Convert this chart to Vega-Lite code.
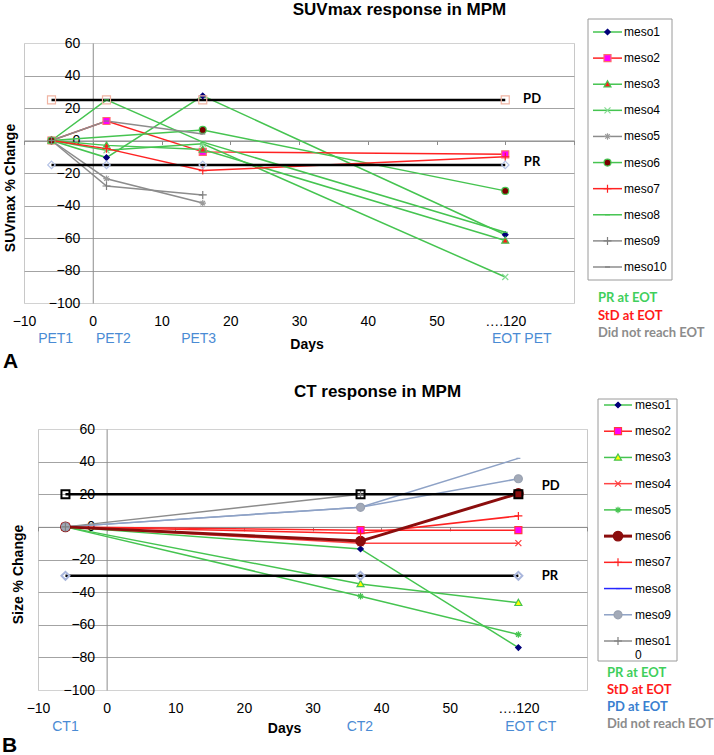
{
  "$schema": "https://vega.github.io/schema/vega-lite/v6.json",
  "background": "white",
  "padding": {"left": 2, "top": 0, "right": 0, "bottom": 0},
  "config": {"font": "Liberation Sans", "view": {"stroke": null}},
  "datasets": {
    "suv": [
      {"series": "meso1", "day": -6, "pct": 0}, {"series": "meso1", "day": 2, "pct": -10.5}, {"series": "meso1", "day": 16, "pct": 27.5}, {"series": "meso1", "day": 60, "pct": -58},
      {"series": "meso2", "day": -6, "pct": 0}, {"series": "meso2", "day": 2, "pct": 12}, {"series": "meso2", "day": 16, "pct": -7}, {"series": "meso2", "day": 60, "pct": -8.5},
      {"series": "meso3", "day": -6, "pct": 0}, {"series": "meso3", "day": 2, "pct": -3}, {"series": "meso3", "day": 16, "pct": -5.5}, {"series": "meso3", "day": 60, "pct": -61.5},
      {"series": "meso4", "day": -6, "pct": 0}, {"series": "meso4", "day": 2, "pct": -6}, {"series": "meso4", "day": 16, "pct": -2}, {"series": "meso4", "day": 60, "pct": -84},
      {"series": "meso5", "day": -6, "pct": 0}, {"series": "meso5", "day": 2, "pct": -23.5}, {"series": "meso5", "day": 16, "pct": -38.5},
      {"series": "meso6", "day": -6, "pct": 0}, {"series": "meso6", "day": 16, "pct": 6.5}, {"series": "meso6", "day": 60, "pct": -31},
      {"series": "meso7", "day": -6, "pct": 0}, {"series": "meso7", "day": 2, "pct": -5}, {"series": "meso7", "day": 16, "pct": -18.5}, {"series": "meso7", "day": 60, "pct": -10},
      {"series": "meso8", "day": -6, "pct": 0}, {"series": "meso8", "day": 2, "pct": 25}, {"series": "meso8", "day": 16, "pct": -1}, {"series": "meso8", "day": 60, "pct": -56.5},
      {"series": "meso9", "day": -6, "pct": 0}, {"series": "meso9", "day": 2, "pct": -28}, {"series": "meso9", "day": 16, "pct": -33.5},
      {"series": "meso10", "day": -6, "pct": 0}, {"series": "meso10", "day": 2, "pct": 12}, {"series": "meso10", "day": 16, "pct": 4}
    ],
    "ct": [
      {"series": "meso1", "day": -6, "pct": 0}, {"series": "meso1", "day": 37, "pct": -13.5}, {"series": "meso1", "day": 60, "pct": -74},
      {"series": "meso2", "day": -6, "pct": 0}, {"series": "meso2", "day": 37, "pct": -2}, {"series": "meso2", "day": 60, "pct": -2},
      {"series": "meso3", "day": -6, "pct": 0}, {"series": "meso3", "day": 37, "pct": -35}, {"series": "meso3", "day": 60, "pct": -46.5},
      {"series": "meso4", "day": -6, "pct": 0}, {"series": "meso4", "day": 37, "pct": -10}, {"series": "meso4", "day": 60, "pct": -10},
      {"series": "meso5", "day": -6, "pct": 0}, {"series": "meso5", "day": 37, "pct": -42.5}, {"series": "meso5", "day": 60, "pct": -66},
      {"series": "meso6", "day": -6, "pct": 0}, {"series": "meso6", "day": 37, "pct": -8.7}, {"series": "meso6", "day": 60, "pct": 20.5},
      {"series": "meso7", "day": -6, "pct": 0}, {"series": "meso7", "day": 37, "pct": -4}, {"series": "meso7", "day": 60, "pct": 6.7},
      {"series": "meso8", "day": -6, "pct": 0}, {"series": "meso8", "day": 37, "pct": 12}, {"series": "meso8", "day": 60, "pct": 42},
      {"series": "meso9", "day": -6, "pct": 0}, {"series": "meso9", "day": 37, "pct": 12}, {"series": "meso9", "day": 60, "pct": 29.5},
      {"series": "meso10", "day": -6, "pct": 0}, {"series": "meso10", "day": 37, "pct": 20}
    ],
    "refA": [
      {"ref": "PD", "day": -6, "pct": 25}, {"ref": "PD", "day": 2, "pct": 25}, {"ref": "PD", "day": 16, "pct": 25}, {"ref": "PD", "day": 60, "pct": 25},
      {"ref": "PR", "day": -6, "pct": -15}, {"ref": "PR", "day": 2, "pct": -15}, {"ref": "PR", "day": 16, "pct": -15}, {"ref": "PR", "day": 60, "pct": -15}
    ],
    "refB": [
      {"ref": "PD", "day": -6, "pct": 20}, {"ref": "PD", "day": 37, "pct": 20}, {"ref": "PD", "day": 60, "pct": 20},
      {"ref": "PR", "day": -6, "pct": -30}, {"ref": "PR", "day": 37, "pct": -30}, {"ref": "PR", "day": 60, "pct": -30}
    ],
    "refLabA": [{"label": "PD", "day": 63.9, "pct": 25.5}, {"label": "PR", "day": 63.9, "pct": -13.5}],
    "refLabB": [{"label": "PD", "day": 64.7, "pct": 25.1}, {"label": "PR", "day": 64.6, "pct": -30}],
    "tpA": [{"label": "PET1", "day": -5.4, "pct": -100}, {"label": "PET2", "day": 3, "pct": -100}, {"label": "PET3", "day": 15.4, "pct": -100}, {"label": "EOT PET", "day": 62.4, "pct": -100}],
    "tpB": [{"label": "CT1", "day": -6, "pct": -100}, {"label": "CT2", "day": 36.9, "pct": -100}, {"label": "EOT CT", "day": 61.8, "pct": -100}],
    "legA": [{"series": "meso1"}, {"series": "meso2"}, {"series": "meso3"}, {"series": "meso4"}, {"series": "meso5"}, {"series": "meso6"}, {"series": "meso7"}, {"series": "meso8"}, {"series": "meso9"}, {"series": "meso10"}],
    "legB": [{"series": "meso1", "label": "meso1"}, {"series": "meso2", "label": "meso2"}, {"series": "meso3", "label": "meso3"}, {"series": "meso4", "label": "meso4"}, {"series": "meso5", "label": "meso5"}, {"series": "meso6", "label": "meso6"}, {"series": "meso7", "label": "meso7"}, {"series": "meso8", "label": "meso8"}, {"series": "meso9", "label": "meso9"}, {"series": "meso10", "label": "meso1\n0"}],
    "notesA": [{"note": "PR at EOT"}, {"note": "StD at EOT"}, {"note": "Did not reach EOT"}],
    "notesB": [{"note": "PR at EOT"}, {"note": "StD at EOT"}, {"note": "PD at EOT"}, {"note": "Did not reach EOT"}]
  },
  "spacing": 9,
  "resolve": {"scale": {"color": "independent", "fill": "independent", "stroke": "independent", "shape": "independent", "size": "independent"}},
  "vconcat": [
    {
      "hconcat": [
        {
          "width": 550,
          "height": 260,
          "view": {"stroke": "#c8c8c8"},
          "title": {"text": "SUVmax response in MPM", "frame": "group", "anchor": "middle", "dx": 100.5, "offset": 0, "baseline": "bottom", "fontSize": 17, "fontWeight": "bold", "color": "#000000"},
          "encoding": {
            "x": {
              "field": "day", "type": "quantitative",
              "scale": {"domain": [-10, 70], "nice": false, "zero": false},
              "axis": {
                "values": [-10, 0, 10, 20, 30, 40, 50, 60, 70], "offset": -162.5, "grid": false,
                "domainColor": "#8c8c8c", "tickColor": "#8c8c8c", "tickSize": 4,
                "labelPadding": 169.5, "labelFontSize": 14, "labelColor": "#000000", "labelFlush": false, "labelOverlap": false,
                "labelExpr": "datum.value == 60 ? '\u2026.120\u00a0\u00a0\u00a0\u00a0\u00a0\u00a0' : datum.value == 70 ? '' : datum.label",
                "title": "Days", "titleFontSize": 14, "titleFontWeight": "bold", "titleColor": "#000000",
                "titleX": 282.5, "titleY": 196.5, "titleAlign": "center", "titleBaseline": "top", "titleAngle": 0
              }
            },
            "y": {
              "field": "pct", "type": "quantitative",
              "scale": {"domain": [-100, 60], "nice": false, "zero": false},
              "axis": {
                "values": [-100, -80, -60, -40, -20, 0, 20, 40, 60], "offset": -68.75,
                "grid": true, "gridColor": {"condition": {"test": "datum.value == 60 || datum.value == -100", "value": "#d2d2d2"}, "value": "#a3a3a3"},
                "domainColor": "#8c8c8c", "ticks": false, "tickSize": 0,
                "labelPadding": 13, "labelFontSize": 14, "labelColor": "#000000", "labelFlush": false, "labelOverlap": false,
                "title": "SUVmax % Change", "titleFontSize": 14, "titleFontWeight": "bold", "titleColor": "#000000",
                "titleX": -82.75, "titleY": 144.5, "titleAngle": -90, "titleAlign": "center", "titleBaseline": "middle"
              }
            }
          },
          "layer": [
            {
              "data": {"name": "suv"},
              "mark": {"type": "line", "strokeWidth": 1.5},
              "encoding": {
                "color": {"field": "series", "type": "nominal", "legend": null,
                  "scale": {"domain": ["meso1", "meso2", "meso3", "meso4", "meso5", "meso6", "meso7", "meso8", "meso9", "meso10"],
                    "range": ["#45c450", "#ff2222", "#45c450", "#45c450", "#8c8c8c", "#45c450", "#ff2222", "#45c450", "#8c8c8c", "#8c8c8c"]}}
              }
            },
            {
              "data": {"name": "refA"},
              "mark": {"type": "line", "color": "#000000", "strokeWidth": 2.5},
              "encoding": {"detail": {"field": "ref", "type": "nominal"}}
            },
            {
              "data": {"name": "suv"},
              "mark": {"type": "point", "filled": true, "opacity": 1, "size": 100, "strokeWidth": 1.2},
              "encoding": {
                "shape": {"field": "series", "type": "nominal", "legend": null,
                  "scale": {"domain": ["meso1", "meso2", "meso3", "meso4", "meso5", "meso6", "meso7", "meso8", "meso9", "meso10"],
                    "range": ["M0,-0.55L0.55,0L0,0.55L-0.55,0Z", "M-0.7,-0.7L0.7,-0.7L0.7,0.7L-0.7,0.7Z", "M0,-0.7L0.7,0.55L-0.7,0.55Z", "M-0.6,-0.6L0.6,0.6M-0.6,0.6L0.6,-0.6", "M-0.65,0L0.65,0M0,-0.65L0,0.65M-0.45,-0.45L0.45,0.45M-0.45,0.45L0.45,-0.45", "M-0.7,0A0.7,0.7,0,1,0,0.7,0A0.7,0.7,0,1,0,-0.7,0Z", "M-0.8,0L0.8,0M0,-0.8L0,0.8", "M-0.5,0L0.5,0", "M-0.8,0L0.8,0M0,-0.8L0,0.8", "M-0.5,0L0.5,0"]}},
                "fill": {"field": "series", "type": "nominal", "legend": null,
                  "scale": {"domain": ["meso1", "meso2", "meso3", "meso4", "meso5", "meso6", "meso7", "meso8", "meso9", "meso10"],
                    "range": ["#00007a", "#ff00ff", "#ff1a1a", "#84db92", "#8c8c8c", "#7a0000", "#ff2222", "#45c450", "#7f7f7f", "#7f7f7f"]}},
                "stroke": {"field": "series", "type": "nominal", "legend": null,
                  "scale": {"domain": ["meso1", "meso2", "meso3", "meso4", "meso5", "meso6", "meso7", "meso8", "meso9", "meso10"],
                    "range": ["#00007a", "#ff6b6b", "#45c450", "#84db92", "#9a9a9a", "#45c450", "#ff2222", "#45c450", "#7f7f7f", "#7f7f7f"]}}
              }
            },
            {
              "data": {"name": "refA"},
              "transform": [{"filter": "datum.ref == 'PD'"}],
              "mark": {"type": "point", "shape": "square", "filled": false, "stroke": "#f0b4a2", "strokeWidth": 1.2, "size": 64, "opacity": 1}
            },
            {
              "data": {"name": "refA"},
              "transform": [{"filter": "datum.ref == 'PR'"}],
              "mark": {"type": "point", "shape": "diamond", "filled": false, "stroke": "#b3c2e6", "strokeWidth": 1.2, "size": 56, "opacity": 1}
            },
            {
              "data": {"name": "refLabA"},
              "mark": {"type": "text", "font": "Lato", "fontWeight": "bold", "fontSize": 13, "align": "center", "baseline": "middle", "color": "#000000"},
              "encoding": {"text": {"field": "label"}}
            },
            {
              "data": {"name": "tpA"},
              "mark": {"type": "text", "fontSize": 14, "align": "center", "baseline": "middle", "color": "#4a8bd4", "dy": 36},
              "encoding": {"text": {"field": "label"}}
            },
            {
              "data": {"values": [{"panel": "A", "day": -10, "pct": -100}]},
              "mark": {"type": "text", "fontSize": 21, "fontWeight": "bold", "align": "left", "baseline": "middle", "dx": -21, "dy": 59, "color": "#000000"},
              "encoding": {"text": {"field": "panel"}}
            }
          ]
        },
        {
          "width": 84,
          "height": 308,
          "view": {"stroke": null},
          "resolve": {"scale": {"y": "independent", "color": "independent"}},
          "layer": [
            {
              "data": {"values": [{"box": "legend"}]},
              "mark": {"type": "rect", "fill": "#ffffff", "stroke": "#9a9a9a", "strokeWidth": 1, "yOffset": -13, "y2Offset": 13},
              "encoding": {
                "x": {"datum": 0, "type": "quantitative", "scale": {"domain": [0, 84], "nice": false, "zero": false}, "axis": null},
                "x2": {"datum": 84},
                "y": {"datum": "meso1", "type": "nominal", "axis": null,
                  "scale": {"type": "point", "domain": ["meso1", "meso2", "meso3", "meso4", "meso5", "meso6", "meso7", "meso8", "meso9", "meso10"], "range": [13, 248], "padding": 0}},
                "y2": {"datum": "meso10"}
              }
            },
            {
              "data": {"name": "legA"},
              "mark": {"type": "rule", "strokeWidth": 1.5},
              "encoding": {
                "x": {"datum": 5, "type": "quantitative", "scale": {"domain": [0, 84], "nice": false, "zero": false}, "axis": null},
                "x2": {"datum": 34},
                "y": {"field": "series", "type": "nominal", "axis": null,
                  "scale": {"type": "point", "domain": ["meso1", "meso2", "meso3", "meso4", "meso5", "meso6", "meso7", "meso8", "meso9", "meso10"], "range": [13, 248], "padding": 0}},
                "color": {"field": "series", "type": "nominal", "legend": null,
                  "scale": {"domain": ["meso1", "meso2", "meso3", "meso4", "meso5", "meso6", "meso7", "meso8", "meso9", "meso10"],
                    "range": ["#45c450", "#ff2222", "#45c450", "#45c450", "#8c8c8c", "#45c450", "#ff2222", "#45c450", "#8c8c8c", "#8c8c8c"]}}
              }
            },
            {
              "data": {"name": "legA"},
              "mark": {"type": "point", "filled": true, "opacity": 1, "size": 100, "strokeWidth": 1.2},
              "encoding": {
                "x": {"datum": 19.5, "type": "quantitative", "scale": {"domain": [0, 84], "nice": false, "zero": false}, "axis": null},
                "y": {"field": "series", "type": "nominal", "axis": null,
                  "scale": {"type": "point", "domain": ["meso1", "meso2", "meso3", "meso4", "meso5", "meso6", "meso7", "meso8", "meso9", "meso10"], "range": [13, 248], "padding": 0}},
                "shape": {"field": "series", "type": "nominal", "legend": null,
                  "scale": {"domain": ["meso1", "meso2", "meso3", "meso4", "meso5", "meso6", "meso7", "meso8", "meso9", "meso10"],
                    "range": ["M0,-0.55L0.55,0L0,0.55L-0.55,0Z", "M-0.7,-0.7L0.7,-0.7L0.7,0.7L-0.7,0.7Z", "M0,-0.7L0.7,0.55L-0.7,0.55Z", "M-0.6,-0.6L0.6,0.6M-0.6,0.6L0.6,-0.6", "M-0.65,0L0.65,0M0,-0.65L0,0.65M-0.45,-0.45L0.45,0.45M-0.45,0.45L0.45,-0.45", "M-0.7,0A0.7,0.7,0,1,0,0.7,0A0.7,0.7,0,1,0,-0.7,0Z", "M-0.8,0L0.8,0M0,-0.8L0,0.8", "M-0.5,0L0.5,0", "M-0.8,0L0.8,0M0,-0.8L0,0.8", "M-0.5,0L0.5,0"]}},
                "fill": {"field": "series", "type": "nominal", "legend": null,
                  "scale": {"domain": ["meso1", "meso2", "meso3", "meso4", "meso5", "meso6", "meso7", "meso8", "meso9", "meso10"],
                    "range": ["#00007a", "#ff00ff", "#ff1a1a", "#84db92", "#8c8c8c", "#7a0000", "#ff2222", "#45c450", "#7f7f7f", "#7f7f7f"]}},
                "stroke": {"field": "series", "type": "nominal", "legend": null,
                  "scale": {"domain": ["meso1", "meso2", "meso3", "meso4", "meso5", "meso6", "meso7", "meso8", "meso9", "meso10"],
                    "range": ["#00007a", "#ff6b6b", "#45c450", "#84db92", "#9a9a9a", "#45c450", "#ff2222", "#45c450", "#7f7f7f", "#7f7f7f"]}}
              }
            },
            {
              "data": {"name": "legA"},
              "mark": {"type": "text", "fontSize": 12, "align": "left", "baseline": "middle", "color": "#000000"},
              "encoding": {
                "x": {"datum": 36, "type": "quantitative", "scale": {"domain": [0, 84], "nice": false, "zero": false}, "axis": null},
                "y": {"field": "series", "type": "nominal", "axis": null,
                  "scale": {"type": "point", "domain": ["meso1", "meso2", "meso3", "meso4", "meso5", "meso6", "meso7", "meso8", "meso9", "meso10"], "range": [13, 248], "padding": 0}},
                "text": {"field": "series"}
              }
            },
            {
              "data": {"name": "notesA"},
              "mark": {"type": "text", "font": "Lato", "fontWeight": "bold", "fontSize": 13, "align": "left", "baseline": "middle"},
              "encoding": {
                "x": {"datum": 10, "type": "quantitative", "scale": {"domain": [0, 84], "nice": false, "zero": false}, "axis": null},
                "y": {"field": "note", "type": "nominal", "axis": null,
                  "scale": {"type": "point", "domain": ["PR at EOT", "StD at EOT", "Did not reach EOT"], "range": [279, 314], "padding": 0}},
                "text": {"field": "note"},
                "color": {"field": "note", "type": "nominal", "legend": null,
                  "scale": {"domain": ["PR at EOT", "StD at EOT", "Did not reach EOT"], "range": ["#3fcf5c", "#ff1a1a", "#8c8c8c"]}}
              }
            }
          ]
        }
      ],
      "spacing": 14,
      "bounds": "flush",
      "center": true,
      "resolve": {"scale": {"color": "independent", "fill": "independent", "stroke": "independent", "shape": "independent", "size": "independent"}}
    },
    {
      "hconcat": [
        {
          "width": 3,
          "height": 261,
          "view": {"stroke": null},
          "data": {"values": [{"panel": "B"}]},
          "mark": {"type": "text", "fontSize": 21, "fontWeight": "bold", "align": "left", "baseline": "middle", "dx": -23.5, "dy": 186, "color": "#000000"},
          "encoding": {"text": {"field": "panel"}}
        },
        {
          "width": 549,
          "height": 261,
          "view": {"stroke": "#c8c8c8"},
          "title": {"text": "CT response in MPM", "frame": "group", "anchor": "middle", "dx": 65, "offset": 4, "baseline": "bottom", "fontSize": 17, "fontWeight": "bold", "color": "#000000"},
          "encoding": {
            "x": {
              "field": "day", "type": "quantitative",
              "scale": {"domain": [-10, 70], "nice": false, "zero": false},
              "axis": {
                "values": [-10, 0, 10, 20, 30, 40, 50, 60, 70], "offset": -163.125, "grid": false,
                "domainColor": "#8c8c8c", "tickColor": "#8c8c8c", "tickSize": 4,
                "labelPadding": 171.1, "labelFontSize": 14, "labelColor": "#000000", "labelFlush": false, "labelOverlap": false,
                "labelExpr": "datum.value == 60 ? '\u2026.120\u00a0\u00a0\u00a0\u00a0\u00a0\u00a0' : datum.value == 70 ? '' : datum.label",
                "title": "Days", "titleFontSize": 14, "titleFontWeight": "bold", "titleColor": "#000000",
                "titleX": 246, "titleY": 195.1, "titleAlign": "center", "titleBaseline": "top", "titleAngle": 0
              }
            },
            "y": {
              "field": "pct", "type": "quantitative",
              "scale": {"domain": [-100, 60], "nice": false, "zero": false},
              "axis": {
                "values": [-100, -80, -60, -40, -20, 0, 20, 40, 60], "offset": -68.625,
                "grid": true, "gridColor": {"condition": {"test": "datum.value == 60 || datum.value == -100", "value": "#d2d2d2"}, "value": "#a3a3a3"},
                "domainColor": "#8c8c8c", "ticks": false, "tickSize": 0,
                "labelPadding": 12, "labelFontSize": 14, "labelColor": "#000000", "labelFlush": false, "labelOverlap": false,
                "title": "Size % Change", "titleFontSize": 14, "titleFontWeight": "bold", "titleColor": "#000000",
                "titleX": -88.6, "titleY": 145, "titleAngle": -90, "titleAlign": "center", "titleBaseline": "middle"
              }
            }
          },
          "layer": [
            {
              "data": {"name": "ct"},
              "transform": [{"filter": "datum.series != 'meso6'"}],
              "mark": {"type": "line", "strokeWidth": 1.5},
              "encoding": {
                "color": {"field": "series", "type": "nominal", "legend": null,
                  "scale": {"domain": ["meso1", "meso2", "meso3", "meso4", "meso5", "meso6", "meso7", "meso8", "meso9", "meso10"],
                    "range": ["#45c450", "#ff2222", "#45c450", "#ff4545", "#45c450", "#8b0d0d", "#ff2222", "#8ea2c6", "#8ea2c6", "#8c8c8c"]}}
              }
            },
            {
              "data": {"name": "ct"},
              "transform": [{"filter": "datum.series == 'meso6'"}],
              "mark": {"type": "line", "strokeWidth": 3},
              "encoding": {
                "color": {"field": "series", "type": "nominal", "legend": null,
                  "scale": {"domain": ["meso1", "meso2", "meso3", "meso4", "meso5", "meso6", "meso7", "meso8", "meso9", "meso10"],
                    "range": ["#45c450", "#ff2222", "#45c450", "#ff4545", "#45c450", "#8b0d0d", "#ff2222", "#8ea2c6", "#8ea2c6", "#8c8c8c"]}}
              }
            },
            {
              "data": {"name": "refB"},
              "mark": {"type": "line", "color": "#000000", "strokeWidth": 2.5},
              "encoding": {"detail": {"field": "ref", "type": "nominal"}}
            },
            {
              "data": {"name": "ct"},
              "mark": {"type": "point", "filled": true, "opacity": 1, "size": 100, "strokeWidth": 1.2},
              "encoding": {
                "shape": {"field": "series", "type": "nominal", "legend": null,
                  "scale": {"domain": ["meso1", "meso2", "meso3", "meso4", "meso5", "meso6", "meso7", "meso8", "meso9", "meso10"],
                    "range": ["M0,-0.55L0.55,0L0,0.55L-0.55,0Z", "M-0.7,-0.7L0.7,-0.7L0.7,0.7L-0.7,0.7Z", "M0,-0.7L0.7,0.55L-0.7,0.55Z", "M-0.6,-0.6L0.6,0.6M-0.6,0.6L0.6,-0.6", "M-0.65,0L0.65,0M0,-0.65L0,0.65M-0.45,-0.45L0.45,0.45M-0.45,0.45L0.45,-0.45", "M-0.95,0A0.95,0.95,0,1,0,0.95,0A0.95,0.95,0,1,0,-0.95,0Z", "M-0.8,0L0.8,0M0,-0.8L0,0.8", "M-0.4,0L0.4,0", "M-0.8,0A0.8,0.8,0,1,0,0.8,0A0.8,0.8,0,1,0,-0.8,0Z", "M-0.8,0L0.8,0M0,-0.8L0,0.8"]}},
                "fill": {"field": "series", "type": "nominal", "legend": null,
                  "scale": {"domain": ["meso1", "meso2", "meso3", "meso4", "meso5", "meso6", "meso7", "meso8", "meso9", "meso10"],
                    "range": ["#00007a", "#ff00ff", "#ffff00", "#ff3b3b", "#45c450", "#8b0d0d", "#ff2222", "#8ea2c6", "#a3aab8", "#7f7f7f"]}},
                "stroke": {"field": "series", "type": "nominal", "legend": null,
                  "scale": {"domain": ["meso1", "meso2", "meso3", "meso4", "meso5", "meso6", "meso7", "meso8", "meso9", "meso10"],
                    "range": ["#00007a", "#ff3b3b", "#45c450", "#ff3b3b", "#45c450", "#8b0d0d", "#ff2222", "#8ea2c6", "#98a0b0", "#7f7f7f"]}}
              }
            },
            {
              "data": {"name": "refB"},
              "transform": [{"filter": "datum.ref == 'PD'"}],
              "mark": {"type": "point", "shape": "square", "filled": false, "stroke": "#000000", "strokeWidth": 2, "size": 64, "opacity": 1}
            },
            {
              "data": {"name": "refB"},
              "transform": [{"filter": "datum.ref == 'PR'"}],
              "mark": {"type": "point", "shape": "diamond", "filled": false, "stroke": "#a9b6dc", "strokeWidth": 2, "size": 64, "opacity": 1}
            },
            {
              "data": {"name": "refLabB"},
              "mark": {"type": "text", "font": "Lato", "fontWeight": "bold", "fontSize": 13, "align": "center", "baseline": "middle", "color": "#000000"},
              "encoding": {"text": {"field": "label"}}
            },
            {
              "data": {"name": "tpB"},
              "mark": {"type": "text", "fontSize": 14, "align": "center", "baseline": "middle", "color": "#4a8bd4", "dy": 37},
              "encoding": {"text": {"field": "label"}}
            }
          ]
        },
        {
          "width": 79,
          "height": 321,
          "view": {"stroke": null},
          "resolve": {"scale": {"y": "independent", "color": "independent"}},
          "layer": [
            {
              "data": {"values": [{"box": "legend"}]},
              "mark": {"type": "rect", "fill": "#ffffff", "stroke": "#9a9a9a", "strokeWidth": 1, "yOffset": -6, "y2Offset": 20},
              "encoding": {
                "x": {"datum": 0, "type": "quantitative", "scale": {"domain": [0, 79], "nice": false, "zero": false}, "axis": null},
                "x2": {"datum": 79},
                "y": {"datum": "meso1", "type": "nominal", "axis": null,
                  "scale": {"type": "point", "domain": ["meso1", "meso2", "meso3", "meso4", "meso5", "meso6", "meso7", "meso8", "meso9", "meso10"], "range": [6, 242], "padding": 0}},
                "y2": {"datum": "meso10"}
              }
            },
            {
              "data": {"name": "legB"},
              "transform": [{"filter": "datum.series != 'meso6'"}],
              "mark": {"type": "rule", "strokeWidth": 1.5},
              "encoding": {
                "x": {"datum": 6, "type": "quantitative", "scale": {"domain": [0, 79], "nice": false, "zero": false}, "axis": null},
                "x2": {"datum": 34},
                "y": {"field": "series", "type": "nominal", "axis": null,
                  "scale": {"type": "point", "domain": ["meso1", "meso2", "meso3", "meso4", "meso5", "meso6", "meso7", "meso8", "meso9", "meso10"], "range": [6, 242], "padding": 0}},
                "color": {"field": "series", "type": "nominal", "legend": null,
                  "scale": {"domain": ["meso1", "meso2", "meso3", "meso4", "meso5", "meso6", "meso7", "meso8", "meso9", "meso10"],
                    "range": ["#45c450", "#ff2222", "#45c450", "#ff4545", "#45c450", "#8b0d0d", "#ff2222", "#2626ff", "#8ea2c6", "#8c8c8c"]}}
              }
            },
            {
              "data": {"name": "legB"},
              "transform": [{"filter": "datum.series == 'meso6'"}],
              "mark": {"type": "rule", "strokeWidth": 3, "color": "#8b0d0d"},
              "encoding": {
                "x": {"datum": 6, "type": "quantitative", "scale": {"domain": [0, 79], "nice": false, "zero": false}, "axis": null},
                "x2": {"datum": 34},
                "y": {"field": "series", "type": "nominal", "axis": null,
                  "scale": {"type": "point", "domain": ["meso1", "meso2", "meso3", "meso4", "meso5", "meso6", "meso7", "meso8", "meso9", "meso10"], "range": [6, 242], "padding": 0}}
              }
            },
            {
              "data": {"name": "legB"},
              "mark": {"type": "point", "filled": true, "opacity": 1, "size": 100, "strokeWidth": 1.2},
              "encoding": {
                "x": {"datum": 20, "type": "quantitative", "scale": {"domain": [0, 79], "nice": false, "zero": false}, "axis": null},
                "y": {"field": "series", "type": "nominal", "axis": null,
                  "scale": {"type": "point", "domain": ["meso1", "meso2", "meso3", "meso4", "meso5", "meso6", "meso7", "meso8", "meso9", "meso10"], "range": [6, 242], "padding": 0}},
                "shape": {"field": "series", "type": "nominal", "legend": null,
                  "scale": {"domain": ["meso1", "meso2", "meso3", "meso4", "meso5", "meso6", "meso7", "meso8", "meso9", "meso10"],
                    "range": ["M0,-0.55L0.55,0L0,0.55L-0.55,0Z", "M-0.7,-0.7L0.7,-0.7L0.7,0.7L-0.7,0.7Z", "M0,-0.7L0.7,0.55L-0.7,0.55Z", "M-0.6,-0.6L0.6,0.6M-0.6,0.6L0.6,-0.6", "M-0.65,0L0.65,0M0,-0.65L0,0.65M-0.45,-0.45L0.45,0.45M-0.45,0.45L0.45,-0.45", "M-0.95,0A0.95,0.95,0,1,0,0.95,0A0.95,0.95,0,1,0,-0.95,0Z", "M-0.8,0L0.8,0M0,-0.8L0,0.8", "M-0.4,0L0.4,0", "M-0.8,0A0.8,0.8,0,1,0,0.8,0A0.8,0.8,0,1,0,-0.8,0Z", "M-0.8,0L0.8,0M0,-0.8L0,0.8"]}},
                "fill": {"field": "series", "type": "nominal", "legend": null,
                  "scale": {"domain": ["meso1", "meso2", "meso3", "meso4", "meso5", "meso6", "meso7", "meso8", "meso9", "meso10"],
                    "range": ["#00007a", "#ff00ff", "#ffff00", "#ff3b3b", "#45c450", "#8b0d0d", "#ff2222", "#2626ff", "#a3aab8", "#7f7f7f"]}},
                "stroke": {"field": "series", "type": "nominal", "legend": null,
                  "scale": {"domain": ["meso1", "meso2", "meso3", "meso4", "meso5", "meso6", "meso7", "meso8", "meso9", "meso10"],
                    "range": ["#00007a", "#ff3b3b", "#45c450", "#ff3b3b", "#45c450", "#8b0d0d", "#ff2222", "#2626ff", "#98a0b0", "#7f7f7f"]}}
              }
            },
            {
              "data": {"name": "legB"},
              "mark": {"type": "text", "fontSize": 12, "align": "left", "baseline": "alphabetic", "dy": 4, "lineBreak": "\n", "lineHeight": 14, "color": "#000000"},
              "encoding": {
                "x": {"datum": 37, "type": "quantitative", "scale": {"domain": [0, 79], "nice": false, "zero": false}, "axis": null},
                "y": {"field": "series", "type": "nominal", "axis": null,
                  "scale": {"type": "point", "domain": ["meso1", "meso2", "meso3", "meso4", "meso5", "meso6", "meso7", "meso8", "meso9", "meso10"], "range": [6, 242], "padding": 0}},
                "text": {"field": "label"}
              }
            },
            {
              "data": {"name": "notesB"},
              "mark": {"type": "text", "font": "Lato", "fontWeight": "bold", "fontSize": 13, "align": "left", "baseline": "middle"},
              "encoding": {
                "x": {"datum": 9, "type": "quantitative", "scale": {"domain": [0, 79], "nice": false, "zero": false}, "axis": null},
                "y": {"field": "note", "type": "nominal", "axis": null,
                  "scale": {"type": "point", "domain": ["PR at EOT", "StD at EOT", "PD at EOT", "Did not reach EOT"], "range": [274, 325], "padding": 0}},
                "text": {"field": "note"},
                "color": {"field": "note", "type": "nominal", "legend": null,
                  "scale": {"domain": ["PR at EOT", "StD at EOT", "PD at EOT", "Did not reach EOT"], "range": ["#3fcf5c", "#ff1a1a", "#3a7fd0", "#8c8c8c"]}}
              }
            }
          ]
        }
      ],
      "spacing": 11,
      "bounds": "flush",
      "center": true,
      "resolve": {"scale": {"color": "independent", "fill": "independent", "stroke": "independent", "shape": "independent", "size": "independent"}}
    }
  ]
}
